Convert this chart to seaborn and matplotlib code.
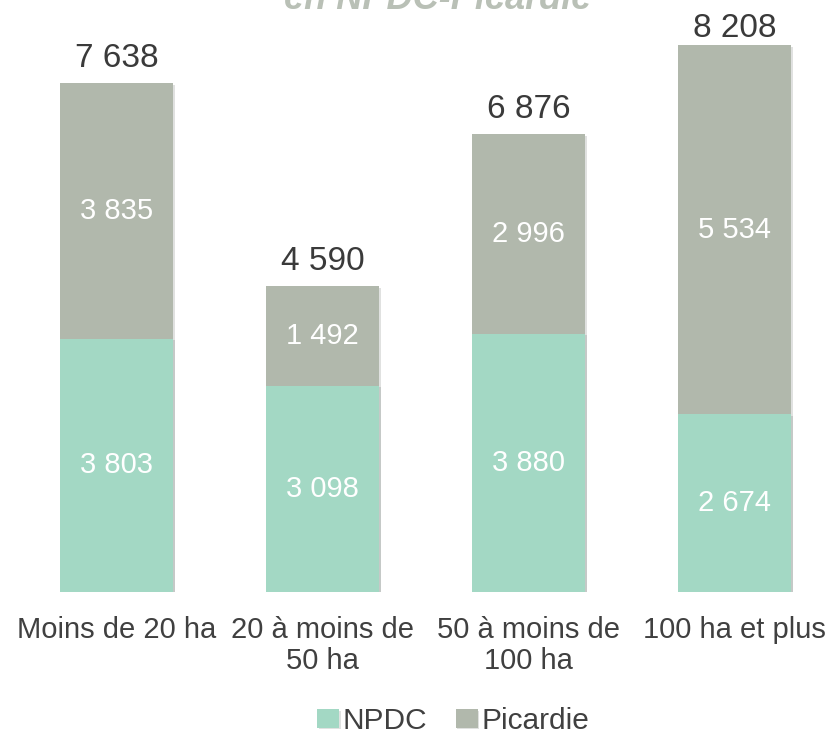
import pandas as pd
import numpy as np
import matplotlib.pyplot as plt
import matplotlib.patheffects as pe
import seaborn as sns

# data
categories = ['Moins de 20 ha', '20 à moins de\n50 ha', '50 à moins de\n100 ha', '100 ha et plus']
npdc = [3803, 3098, 3880, 2674]
picardie = [3835, 1492, 2996, 5534]
totals = [7638, 4590, 6876, 8208]

green = '#a3d8c4'
grey = '#b1b8ac'

sns.set_theme(style='white')
plt.rcParams['font.family'] = ['Liberation Sans', 'DejaVu Sans']

df = pd.DataFrame({'cat': categories, 'NPDC': npdc, 'Picardie': picardie, 'Total': totals})

fig = plt.figure(figsize=(8.31, 7.34), dpi=100)
ax = fig.add_axes([0, 142 / 734, 1, 1 - 142 / 734])

shadow = [pe.SimplePatchShadow(offset=(1.2, -1.2), alpha=0.15), pe.Normal()]

# stacked bars: totals behind (Picardie shows on top), NPDC in front
sns.barplot(data=df, x='cat', y='Total', color=grey, width=0.55, saturation=1, ax=ax, label='Picardie')
sns.barplot(data=df, x='cat', y='NPDC', color=green, width=0.55, saturation=1, ax=ax, label='NPDC')
for p in ax.patches:
    p.set_path_effects(shadow)
    p.set_edgecolor('none')

ax.set_xlim(-0.5655, 3.4685)
ax.set_ylim(0, 8890)
sns.despine(ax=ax, left=True, bottom=True)
ax.set_yticks([])
ax.set_xlabel('')
ax.set_ylabel('')
ax.tick_params(axis='x', length=0, pad=17, labelsize=21, colors='#404040')
for t in ax.get_xticklabels():
    t.set_linespacing(1.15)

for i in range(len(categories)):
    ax.text(i, npdc[i] / 2, f'{npdc[i]:,}'.replace(',', ' '), ha='center', va='center',
            color='white', fontsize=21)
    ax.text(i, npdc[i] + picardie[i] / 2, f'{picardie[i]:,}'.replace(',', ' '), ha='center',
            va='center', color='white', fontsize=21)
    # label kept inside the figure when the bar reaches the top
    ax.text(i, min(totals[i] + 240, 8333), f'{totals[i]:,}'.replace(',', ' '), ha='center',
            va='baseline', color='#3a3a3a', fontsize=24)

# legend order: NPDC then Picardie
h, l = ax.get_legend_handles_labels()
order = [l.index('NPDC'), l.index('Picardie')]
fig.legend([h[k] for k in order], [l[k] for k in order], loc='center',
           bbox_to_anchor=(453 / 831, 1 - 721 / 734), ncol=2, frameon=False,
           fontsize=21.5, handlelength=0.74, handleheight=0.57, handletextpad=0.12,
           columnspacing=0.95, labelcolor='#404040', borderpad=0)
if ax.get_legend():
    ax.get_legend().remove()

# title is partly cut off at the top of the image
fig.text(438 / 831, 1 - 9 / 734, 'en NPDC-Picardie', ha='center', va='baseline',
         fontsize=26, fontweight='bold', fontstyle='italic', color='#b9c0b6')

fig.savefig('out.png', dpi=100)
plt.close()
